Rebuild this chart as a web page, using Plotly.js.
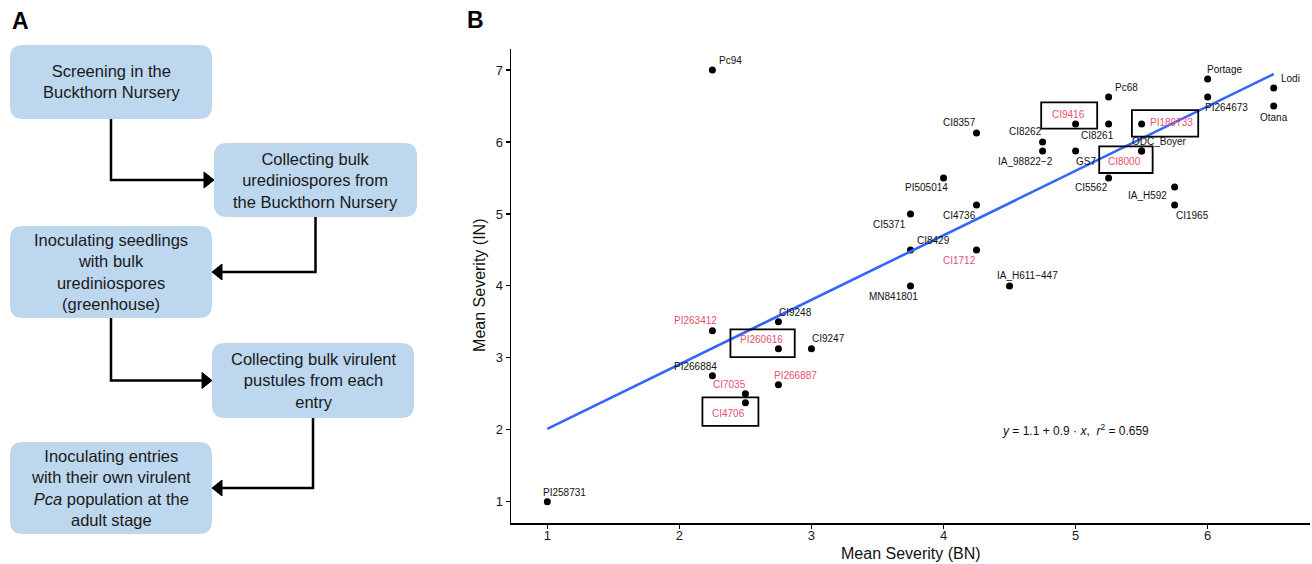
<!DOCTYPE html>
<html>
<head>
<meta charset="utf-8">
<script src="https://cdn.plot.ly/plotly-3.0.1.min.js"></script>
<style>
  html, body { margin: 0; padding: 0; background: #ffffff; }
  #chart { width: 1312px; height: 564px; }
</style>
</head>
<body>
<div id="chart"></div>
<script>
// ---------------- Data (panel B) ----------------
const entries = ["Pc94","Portage","Lodi","Otana","PI264673","Pc68","CI9416","CI8261","PI189733","CI8357",
  "CI8262","IA_98822\u22122","GS7","ODC_Boyer","CI8000","CI5562","IA_H592","CI1965","PI505014","CI4736",
  "CI5371","CI8429","CI1712","IA_H611\u2212447","MN841801","CI9248","PI263412","PI260616","CI9247","PI266884",
  "PI266887","CI7035","CI4706","PI258731"];
const severityBN = [2.25,6.0,6.5,6.5,6.0,5.25,5.0,5.25,5.5,4.25,
  4.75,4.75,5.0,5.5,5.5,5.25,5.75,5.75,4.0,4.25,
  3.75,3.75,4.25,4.5,3.75,2.75,2.25,2.75,3.0,2.25,
  2.75,2.5,2.5,1.0];
const severityIN = [7.0,6.875,6.75,6.5,6.625,6.625,6.25,6.25,6.25,6.125,
  6.0,5.875,5.875,5.875,5.875,5.5,5.375,5.125,5.5,5.125,
  5.0,4.5,4.5,4.0,4.0,3.5,3.375,3.125,3.125,2.75,
  2.625,2.5,2.375,1.0];
const redEntries = ["CI9416","PI189733","CI8000","CI1712","PI263412","PI260616","PI266887","CI7035","CI4706"];
const boxedEntries = ["CI9416","PI189733","CI8000","PI260616","CI4706"];
const xTicks = [1,2,3,4,5,6];
const yTicks = [1,2,3,4,5,6,7];
const xTitle = "Mean Severity (BN)";
const yTitle = "Mean Severity (IN)";
const fitText = "<i>y</i> = 1.1 + 0.9 \u00b7 <i>x</i>,  <i>r</i><sup>2</sup> = 0.659";

// ---------------- Data (panel A) ----------------
const steps = [
  "Screening in the<br>Buckthorn Nursery",
  "Collecting bulk<br>urediniospores from<br>the Buckthorn Nursery",
  "Inoculating seedlings<br>with bulk<br>urediniospores<br>(greenhouse)",
  "Collecting bulk virulent<br>pustules from each<br>entry",
  "Inoculating entries<br>with their own virulent<br><i>Pca</i> population at the<br>adult stage"
];

// ---------------- Layout / style (positions in px) ----------------
const W = 1312, H = 564;
const FONT = "Liberation Sans, Arial, Helvetica, sans-serif";
const RED = "#e8506e";
const BOXFILL = "#bdd7ee";
// label offsets [dx right, dy down] in px, same order as entries (repel-style placement)
const labelOffsets = [[17.7,-10],[17,-9.7],[16.5,-9.4],[0,11],[18.7,10.6],[17.6,-10],[-6.7,-10],[-11,11],[29.5,-1.7],[-17,-10.4],
  [-17.3,-10.4],[-17,10],[10.8,10],[18,-10],[-17.4,10.6],[-17,10],[-27.2,9],[17.6,10.3],[-17,9.6],[-17,10.3],
  [-21.5,10.3],[23,-9.7],[-17,10.3],[17.5,-10],[-17,10.3],[17,-9.4],[-17.4,-10],[-17.4,-9.7],[17.5,-10],[-17.4,-9.4],
  [17,-9.7],[-16,-9],[-17,11],[17,-9.7]];
// highlight box extents relative to the point, in px: [left, right, below, above]
const boxExtents = {
  "CI9416":   [-34.4, 21.6, -4.6, 21.7],
  "PI189733": [-9.7, 56.6, -12.6, 14],
  "CI8000":   [-42.4, 11, -22, 4.7],
  "PI260616": [-48, 16.3, -8.3, 19.4],
  "CI4706":   [-43, 13, -23, 5.4]
};
// flowchart boxes in px [x0, y0, x1, y1]
const flowBoxes = [[10,45,212,119],[214,143,417,217],[10,226,212,318],[212,343,414,418],[10,442,212,534]];

// plot area in px
const PL = 511, PR = 1310, PT = 48.5, PB = 523.3;

function px(xp) { return xp / W; }
function py(yp) { return 1 - yp / H; }

// ---------- Regression from data ----------
const n = severityBN.length;
const mx = severityBN.reduce((a,b)=>a+b,0)/n;
const my = severityIN.reduce((a,b)=>a+b,0)/n;
let sxy = 0, sxx = 0;
for (let i = 0; i < n; i++) { sxy += (severityBN[i]-mx)*(severityIN[i]-my); sxx += (severityBN[i]-mx)**2; }
const slope = sxy/sxx, intercept = my - slope*mx;
const xMin = Math.min(...severityBN), xMax = Math.max(...severityBN);
const fitX = [xMin, xMax];
const fitY = fitX.map(v => intercept + slope*v);

const traces = [
  { type: "scatter", mode: "markers", x: severityBN, y: severityIN, text: entries,
    marker: { color: "#000000", size: 7 }, hoverinfo: "text+x+y", showlegend: false, cliponaxis: false },
  { type: "scatter", mode: "lines", x: fitX, y: fitY,
    line: { color: "#3366ff", width: 2.6 }, hoverinfo: "skip", showlegend: false }
];

const annotations = [];
const shapes = [];

// point labels
entries.forEach((name, i) => {
  annotations.push({
    xref: "x", yref: "y", x: severityBN[i], y: severityIN[i], text: name, showarrow: false,
    xanchor: "center", yanchor: "middle",
    xshift: labelOffsets[i][0], yshift: -labelOffsets[i][1],
    font: { family: FONT, size: 10, color: redEntries.includes(name) ? RED : "#111111" }
  });
  if (boxedEntries.includes(name)) {
    const e = boxExtents[name];
    shapes.push({
      type: "rect", xref: "x", yref: "y", xsizemode: "pixel", ysizemode: "pixel",
      xanchor: severityBN[i], yanchor: severityIN[i], x0: e[0], x1: e[1], y0: e[2], y1: e[3],
      line: { color: "#000000", width: 1.8 }, fillcolor: "rgba(0,0,0,0)", layer: "above"
    });
  }
});

// equation
annotations.push({ xref: "x", yref: "y", x: 5.0, y: 2.0, text: fitText, showarrow: false,
  xanchor: "center", yanchor: "middle",
  font: { family: FONT, size: 12, color: "#111111" } });

// axis titles
annotations.push({ xref: "paper", yref: "paper", x: px((PL+PR)/2), y: py(553), text: xTitle, showarrow: false,
  xanchor: "center", yanchor: "middle",
  font: { family: FONT, size: 16, color: "#111111" } });
annotations.push({ xref: "paper", yref: "paper", x: px(480), y: py((PT+PB)/2), text: yTitle, showarrow: false,
  xanchor: "center", yanchor: "middle",
  textangle: -90, font: { family: FONT, size: 16, color: "#111111" } });

// panel letters
annotations.push({ xref: "paper", yref: "paper", x: px(20), y: py(21), text: "<b>A</b>", showarrow: false,
  xanchor: "center", yanchor: "middle",
  font: { family: FONT, size: 23, color: "#000000" } });
annotations.push({ xref: "paper", yref: "paper", x: px(475), y: py(20), text: "<b>B</b>", showarrow: false,
  xanchor: "center", yanchor: "middle",
  font: { family: FONT, size: 23, color: "#000000" } });

// ---------- Panel A flowchart ----------
function roundRectPath(b, r) {
  const [x0,y0,x1,y1] = b;
  const P = (x,y) => px(x) + "," + py(y);
  return "M" + P(x0+r,y0) + " L" + P(x1-r,y0) + " Q" + P(x1,y0) + " " + P(x1,y0+r) +
    " L" + P(x1,y1-r) + " Q" + P(x1,y1) + " " + P(x1-r,y1) +
    " L" + P(x0+r,y1) + " Q" + P(x0,y1) + " " + P(x0,y1-r) +
    " L" + P(x0,y0+r) + " Q" + P(x0,y0) + " " + P(x0+r,y0) + " Z";
}
flowBoxes.forEach((b, i) => {
  shapes.push({ type: "path", xref: "paper", yref: "paper", path: roundRectPath(b, 13),
    fillcolor: BOXFILL, line: { width: 0 }, layer: "below" });
  annotations.push({ xref: "paper", yref: "paper", x: px((b[0]+b[2])/2), y: py((b[1]+b[3])/2),
    text: steps[i], showarrow: false, align: "center", xanchor: "center", yanchor: "middle",
    font: { family: FONT, size: 16.5, color: "#1a1a1a" } });
});
// connectors: from bottom-centre of box i down, then sideways to box i+1
for (let i = 0; i < flowBoxes.length - 1; i++) {
  const a = flowBoxes[i], b = flowBoxes[i+1];
  const sx = (a[0]+a[2])/2, sy = a[3];
  const ty = (b[1]+b[3])/2;
  const goingRight = b[0] > sx;
  const tipX = goingRight ? b[0] : b[2];
  const baseX = goingRight ? tipX - 10 : tipX + 10;
  shapes.push({ type: "path", xref: "paper", yref: "paper",
    path: "M" + px(sx) + "," + py(sy) + " L" + px(sx) + "," + py(ty) + " L" + px(baseX) + "," + py(ty),
    line: { color: "#000000", width: 2.5 }, layer: "above" });
  shapes.push({ type: "path", xref: "paper", yref: "paper",
    path: "M" + px(baseX) + "," + py(ty-8) + " L" + px(tipX) + "," + py(ty) + " L" + px(baseX) + "," + py(ty+8) + " Z",
    fillcolor: "#000000", line: { color: "#000000", width: 1 }, layer: "above" });
}

const layout = {
  width: W, height: H,
  margin: { l: 0, r: 0, t: 0, b: 0, pad: 0 },
  paper_bgcolor: "#ffffff", plot_bgcolor: "#ffffff",
  showlegend: false,
  font: { family: FONT, color: "#111111" },
  xaxis: {
    domain: [px(PL), px(PR)], range: [0.725, 6.775], tickvals: xTicks, ticktext: xTicks.map(String),
    showgrid: false, zeroline: false, showline: true, linecolor: "#000000", linewidth: 1.5,
    ticks: "outside", ticklen: 4, tickwidth: 1.2, tickcolor: "#000000", ticklabelstandoff: -4,
    tickfont: { family: FONT, size: 13, color: "#1a1a1a" }, automargin: false, fixedrange: true
  },
  yaxis: {
    domain: [py(PB), py(PT)], range: [0.7, 7.3], tickvals: yTicks, ticktext: yTicks.map(String),
    showgrid: false, zeroline: false, showline: true, linecolor: "#000000", linewidth: 1.5,
    ticks: "outside", ticklen: 4, tickwidth: 1.2, tickcolor: "#000000",
    tickfont: { family: FONT, size: 13, color: "#1a1a1a" }, automargin: false, fixedrange: true
  },
  shapes: shapes,
  annotations: annotations
};

Plotly.newPlot("chart", traces, layout, { displayModeBar: false, staticPlot: true });
</script>
</body>
</html>
